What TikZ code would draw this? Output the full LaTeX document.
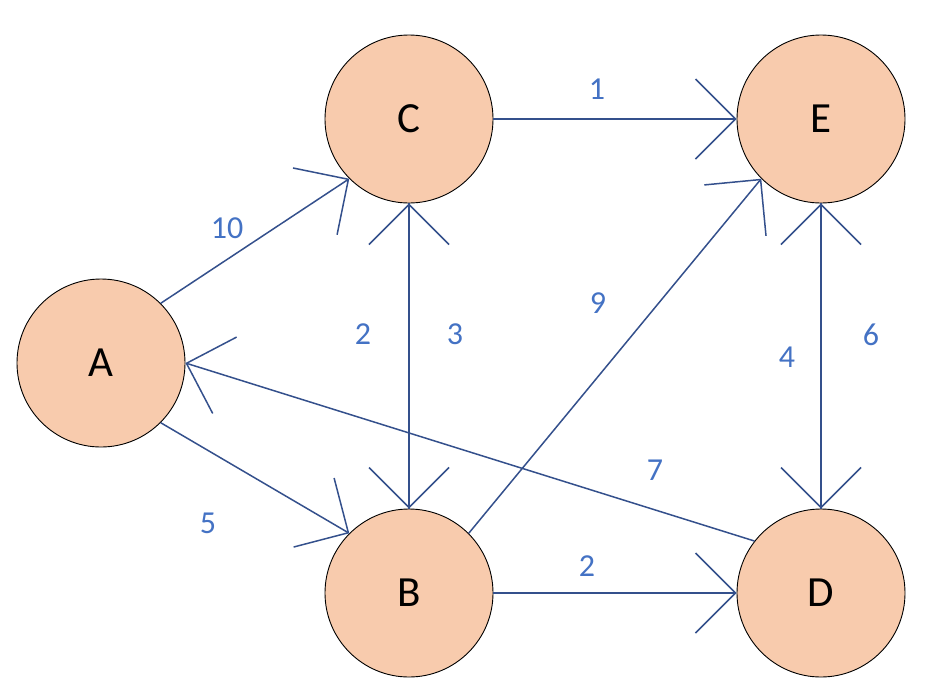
\documentclass[tikz,border=0pt]{standalone}
\usepackage{fontspec}
\setmainfont{Carlito}
\usetikzlibrary{arrows.meta}
\definecolor{nodefill}{HTML}{F8CBAD}
\definecolor{edgecol}{HTML}{34508C}
\definecolor{labcol}{HTML}{4472C4}
\tikzset{
  vertex/.style={circle, draw=black, line width=0.9pt, fill=nodefill, minimum size=168pt, inner sep=0pt, font=\fontsize{43}{50}\selectfont},
  edge/.style={draw=edgecol, line width=1.5pt, -{Straight Barb[length=40pt, width=80pt, line width=1.5pt]}},
  wlabel/.style={text=labcol, font=\fontsize{32}{38}\selectfont, inner sep=0pt}
}
\begin{document}
\begin{tikzpicture}[x=1pt, y=-1pt]
\useasboundingbox (0,0) rectangle (931,694);
\node[vertex] (A) at (101,363) {A};
\node[vertex] (C) at (409,119) {C};
\node[vertex] (E) at (821,119) {E};
\node[vertex] (B) at (409,593) {B};
\node[vertex] (D) at (821,593) {D};

\draw[edge] (A.45) -- (C.225);
\draw[edge] (A.-45) -- (B.135);
\draw[edge] (C.south) -- (B.north);
\draw[edge] (B.north) -- (C.south);
\draw[edge] (C.east) -- (E.west);
\draw[edge] (B.45) -- (E.225);
\draw[edge] (E.south) -- (D.north);
\draw[edge] (D.north) -- (E.south);
\draw[edge] (D.142) -- (A.east);
\draw[edge] (B.east) -- (D.west);

\node[wlabel] (l10) at (227,228) {10};
\node[wlabel] (l5) at (208,523) {5};
\node[wlabel] (l2a) at (363,334) {2};
\node[wlabel] (l3) at (455,334) {3};
\node[wlabel] (l1) at (597,89) {1};
\node[wlabel] (l9) at (598,303) {9};
\node[wlabel] (l4) at (787,357) {4};
\node[wlabel] (l6) at (871,335) {6};
\node[wlabel] (l7) at (655,470) {7};
\node[wlabel] (l2b) at (587,566) {2};
\end{tikzpicture}
\end{document}
